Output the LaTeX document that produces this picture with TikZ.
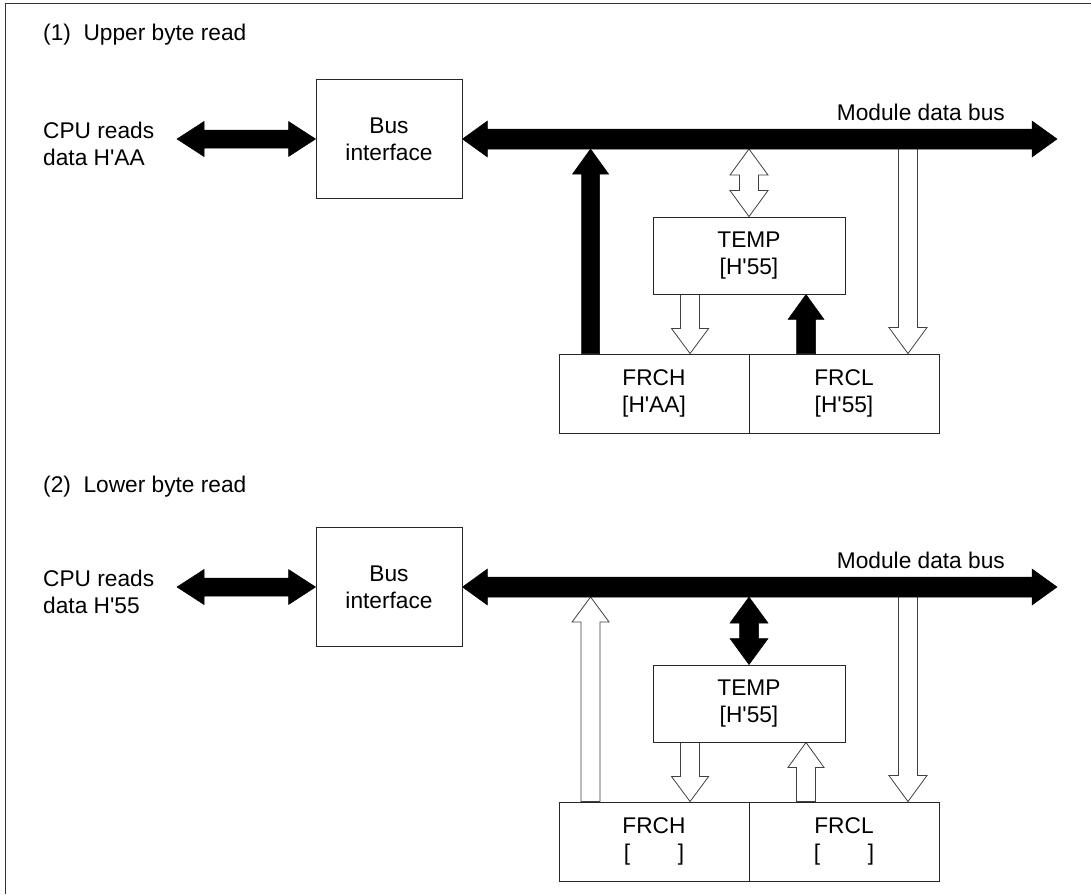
\documentclass[tikz,border=0pt]{standalone}
\usepackage{fontspec}
\setmainfont{Liberation Sans}
\usetikzlibrary{calc}
\pgfdeclarelayer{bg}
\pgfsetlayers{bg,main}
\newcommand\apos{\textquotesingle}
\tikzset{
  box/.style={draw=black!85, line width=0.9pt, inner sep=0pt, align=center,
              font=\fontsize{22.7}{27}\selectfont},
  lbl/.style={inner sep=0pt, align=left, font=\fontsize{22.7}{27}\selectfont},
  solidarrow/.style={fill=black, draw=black, line width=0.5pt, line join=miter},
  hollowarrow/.style={fill=white, draw=black!75, line width=0.8pt, line join=miter},
  frameline/.style={draw=black!80, line width=1.2pt},
}
% single-headed block arrow: style, from, to, head length, shaft half width, head half width
\newcommand\blockarrow[6]{%
  \coordinate (hb) at ($(#3)!#4!(#2)$);
  \draw[#1] ($(#2)!#5!90:(#3)$) -- ($(hb)!#5!90:(#3)$) -- ($(hb)!#6!90:(#3)$) -- (#3)
    -- ($(hb)!#6!-90:(#3)$) -- ($(hb)!#5!-90:(#3)$) -- ($(#2)!#5!-90:(#3)$) -- cycle;}
% double-headed block arrow
\newcommand\dblarrow[6]{%
  \coordinate (ha) at ($(#2)!#4!(#3)$);
  \coordinate (hb) at ($(#3)!#4!(#2)$);
  \draw[#1] (#2) -- ($(ha)!#6!90:(#3)$) -- ($(ha)!#5!90:(#3)$) -- ($(hb)!#5!90:(#3)$)
    -- ($(hb)!#6!90:(#3)$) -- (#3) -- ($(hb)!#6!-90:(#3)$) -- ($(hb)!#5!-90:(#3)$)
    -- ($(ha)!#5!-90:(#3)$) -- ($(ha)!#6!-90:(#3)$) -- cycle;}
% one panel: suffix, y offset, data value, FRCH value, FRCL value,
% kind of FRCH->bus arrow (s/h), style TEMP<->bus, style FRCL->TEMP
\newcommand\panel[8]{%
  \begin{scope}[shift={(0,#2)}]
    \node[lbl, anchor=west] (cpu#1) at (43,143.5) {CPU reads\\data #3};
    \node[box, minimum width=146pt, minimum height=119pt] (bi#1) at (389,139) {Bus\\interface};
    \node[box, minimum width=192pt, minimum height=77pt] (temp#1) at (749,255.5) {TEMP\\{[H\apos 55]}};
    \node[box, minimum width=190pt, minimum height=79pt] (frch#1) at (654,393.5) {FRCH\\{[#4]}};
    \node[box, minimum width=190pt, minimum height=79pt] (frcl#1) at (844,393.5) {FRCL\\{[#5]}};
    \node[lbl, anchor=east] (mdb#1) at (1005,112) {Module data bus};
    \coordinate (cpuend#1) at (177,139);
    \coordinate (busend#1) at (1057,139);
    \coordinate (busbot#1) at (0,149);
    \coordinate (busin#1) at (0,145);
    \coordinate (a#1) at ([xshift=32pt]frch#1.north west);
    \coordinate (at#1) at (a#1 |- busbot#1);
    \coordinate (tt#1) at (temp#1.north |- busbot#1);
    \coordinate (d#1) at ([xshift=37.5pt]temp#1.south west);
    \coordinate (db#1) at (d#1 |- frch#1.north);
    \coordinate (u#1) at ([xshift=57pt]temp#1.south);
    \coordinate (ub#1) at (u#1 |- frcl#1.north);
    \coordinate (r#1) at ([xshift=-31.5pt]frcl#1.north east);
    \coordinate (rt#1) at (r#1 |- busin#1);
    \begin{pgfonlayer}{bg}
      \ifx#6s\blockarrow{solidarrow}{a#1}{at#1}{25pt}{9pt}{18pt}%
      \else\blockarrow{hollowarrow}{a#1}{at#1}{25pt}{9.5pt}{18.5pt}\fi
      \dblarrow{#7}{tt#1}{temp#1.north}{26pt}{9.5pt}{19pt}
      \blockarrow{hollowarrow}{d#1}{db#1}{25pt}{9.5pt}{18.5pt}
      \blockarrow{#8}{ub#1}{u#1}{25pt}{9.5pt}{18pt}
      \blockarrow{hollowarrow}{rt#1}{r#1}{26pt}{9.5pt}{19pt}
      \dblarrow{solidarrow}{bi#1.east}{busend#1}{25pt}{10pt}{18pt}
      \dblarrow{solidarrow}{cpuend#1}{bi#1.west}{27pt}{9pt}{17.5pt}
    \end{pgfonlayer}
  \end{scope}}
\begin{document}
\begin{tikzpicture}[x=1pt, y=-1pt]
  \useasboundingbox (0,0) rectangle (1091,894);
  \draw[frameline] (5.5,894) -- (5.5,3.5) -- (1091,3.5);
  \node[lbl, anchor=west] (title1) at (43,35) {(1)\ \ Upper byte read};
  \node[lbl, anchor=west] (title2) at (43,487) {(2)\ \ Lower byte read};
  \panel{1}{0}{H\apos AA}{H\apos AA}{H\apos 55}{s}{hollowarrow}{solidarrow}
  \panel{2}{448}{H\apos 55}{\hspace{2.1em}}{\hspace{2.1em}}{h}{solidarrow}{hollowarrow}
\end{tikzpicture}
\end{document}
